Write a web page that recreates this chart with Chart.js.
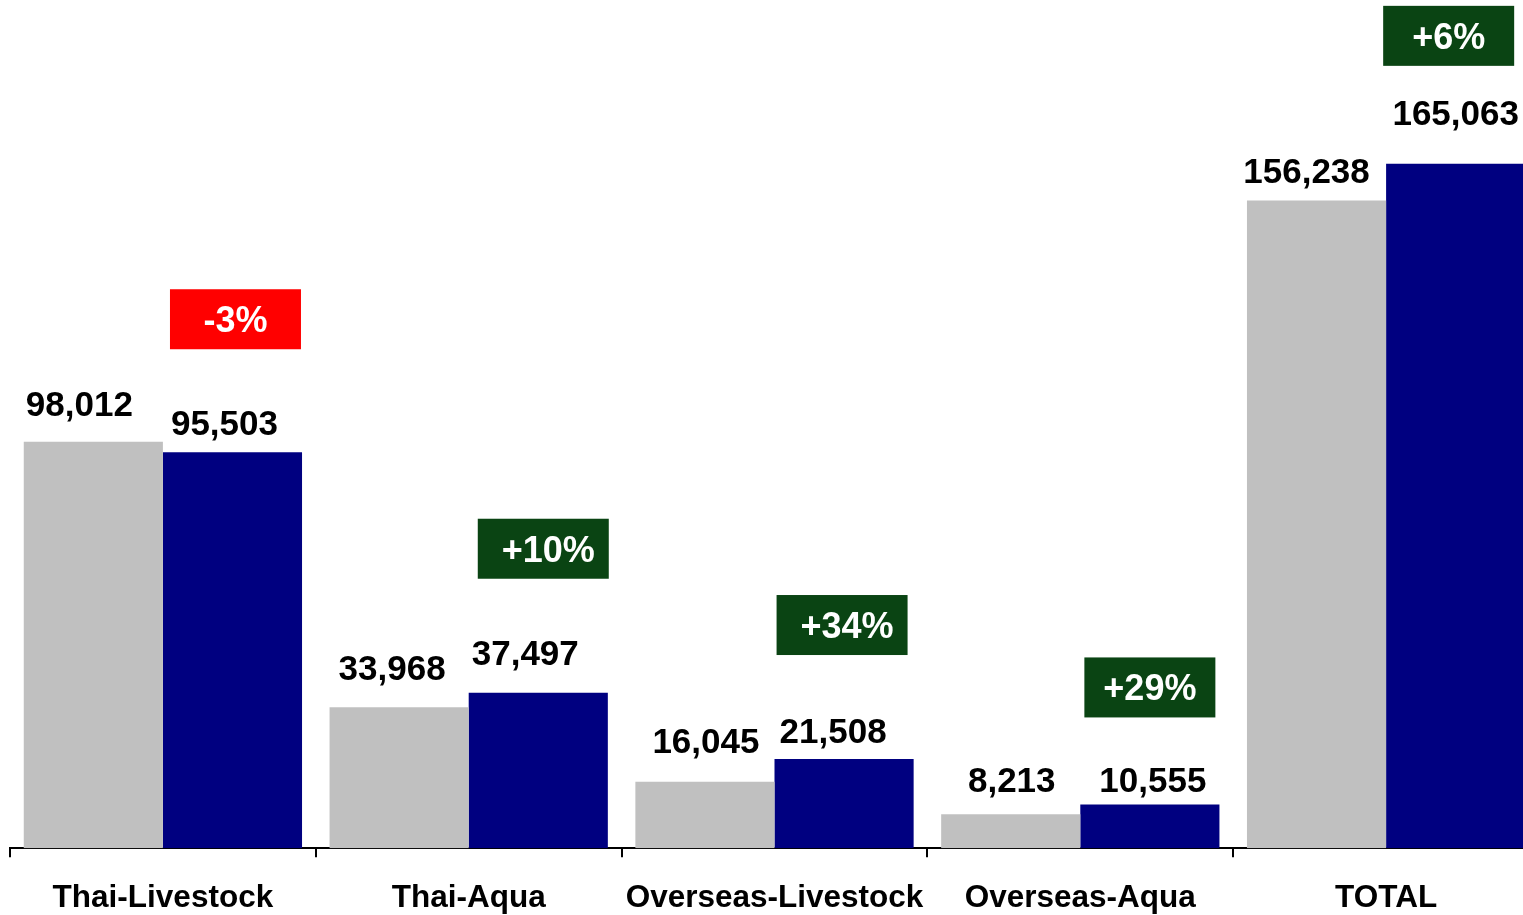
<!DOCTYPE html>
<html>
<head>
<meta charset="utf-8">
<script src="https://cdn.jsdelivr.net/npm/chart.js@4.4.1/dist/chart.umd.min.js"></script>
<style>
  html, body { margin: 0; padding: 0; background: #ffffff; overflow: hidden; }
  #wrap { position: absolute; left: 0; top: 0; width: 1523px; height: 915px; overflow: hidden; }
  #c { position: absolute; left: 0; top: 0; }
</style>
</head>
<body>
<div id="wrap"><canvas id="c" width="1539" height="939"></canvas></div>
<script>
// ---- data ----
const categories = ['Thai-Livestock', 'Thai-Aqua', 'Overseas-Livestock', 'Overseas-Aqua', 'TOTAL'];
const previousValues = [98012, 33968, 16045, 8213, 156238];
const currentValues = [95503, 37497, 21508, 10555, 165063];
const changeLabels = ['-3%', '+10%', '+34%', '+29%', '+6%'];

// ---- styles ----
const FONT = "'Liberation Sans', Arial, Helvetica, sans-serif";
const GRAY = '#C0C0C0';
const NAVY = '#000080';
const RED = '#FF0000';
const GREEN = '#0A4413';

const labelStyle = {
  // per-label offsets (px) of label centre relative to bar centre / bar top
  dx: [[-14, -7, 1, 1, -10], [-8, -13, -11, 3, 0]],
  dy: [[38, 40, 41, 35, 30], [30, 40, 29, 25, 51]],
  boxDx: [3, 5, -2, 0, -7],
  boxDy: [133, 144, 134, 117, 128],
  boxTextDx: [0, 5, 5, 0, 0],
  boxW: 131,
  boxH: 60
};

const labelsPlugin = {
  id: 'valueLabels',
  afterDatasetsDraw(chart) {
    const ctx = chart.ctx;
    ctx.save();
    ctx.textAlign = 'center';
    ctx.textBaseline = 'alphabetic';
    // value labels
    const valueFont = 35;
    ctx.font = 'bold ' + valueFont + 'px ' + FONT;
    ctx.fillStyle = '#000000';
    chart.data.datasets.forEach((ds, d) => {
      const meta = chart.getDatasetMeta(d);
      meta.data.forEach((bar, i) => {
        const txt = ds.data[i].toLocaleString('en-US');
        const cx = bar.x + labelStyle.dx[d][i];
        const cy = bar.y - labelStyle.dy[d][i];
        ctx.fillText(txt, cx, cy + valueFont * 0.358);
      });
    });
    // change boxes above the current bars
    const meta = chart.getDatasetMeta(1);
    const boxFont = 36;
    ctx.font = 'bold ' + boxFont + 'px ' + FONT;
    meta.data.forEach((bar, i) => {
      const txt = changeLabels[i];
      const cx = bar.x + labelStyle.boxDx[i];
      const cy = bar.y - labelStyle.boxDy[i];
      ctx.fillStyle = txt.startsWith('-') ? RED : GREEN;
      ctx.fillRect(cx - labelStyle.boxW / 2, cy - labelStyle.boxH / 2, labelStyle.boxW, labelStyle.boxH);
      ctx.fillStyle = '#FFFFFF';
      ctx.fillText(txt, cx + labelStyle.boxTextDx[i], cy + boxFont * 0.358);
    });
    ctx.restore();
  }
};

new Chart(document.getElementById('c'), {
  type: 'bar',
  data: {
    labels: categories,
    datasets: [
      { label: 'Previous', data: previousValues, backgroundColor: GRAY, borderWidth: 0,
        categoryPercentage: 0.91, barPercentage: 1.0 },
      { label: 'Current', data: currentValues, backgroundColor: NAVY, borderWidth: 0,
        categoryPercentage: 0.91, barPercentage: 1.0 }
    ]
  },
  options: {
    responsive: false,
    animation: false,
    devicePixelRatio: 1,
    layout: { padding: { left: 10, right: 0, top: 19, bottom: 0 } },
    plugins: {
      legend: { display: false },
      tooltip: { enabled: false }
    },
    scales: {
      x: {
        grid: {
          offset: true,
          drawOnChartArea: false,
          drawTicks: true,
          tickLength: 9,
          color: '#000000',
          lineWidth: 2
        },
        border: { display: true, color: '#000000', width: 2 },
        ticks: {
          color: '#000000',
          padding: 22,
          font: { family: FONT, size: 31.5, weight: 'bold' }
        }
      },
      y: {
        display: false,
        min: 0,
        max: 200000
      }
    }
  },
  plugins: [labelsPlugin]
});
</script>
</body>
</html>
